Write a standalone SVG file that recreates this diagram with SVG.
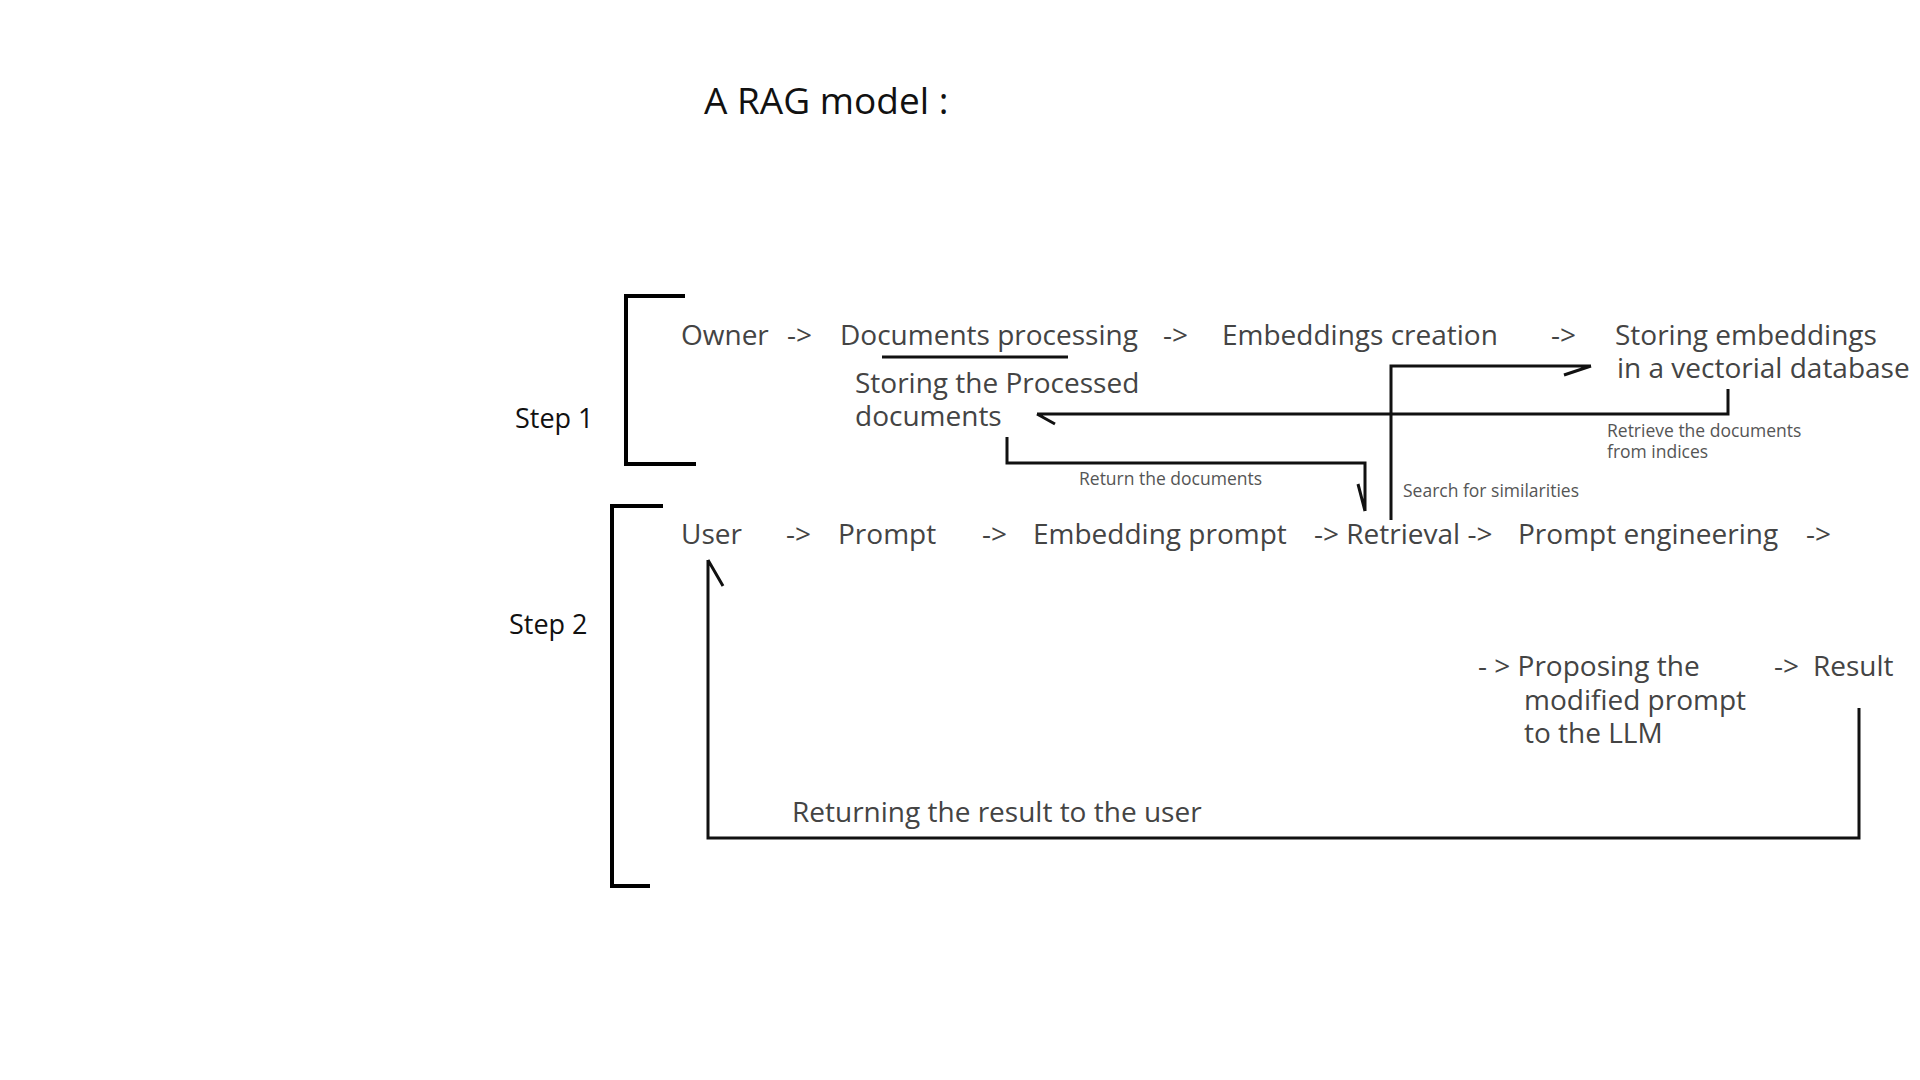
<svg xmlns="http://www.w3.org/2000/svg" width="1920" height="1080" viewBox="0 0 1920 1080">
<style>
.t{font-family:"Open Sans","Noto Sans",sans-serif;font-size:28px;fill:#444}
.s{font-family:"Open Sans","Noto Sans",sans-serif;font-size:17.5px;fill:#555}
.k{font-family:"Open Sans","Noto Sans",sans-serif;fill:#111}
.br{fill:none;stroke:#000;stroke-width:4;stroke-linecap:square}
.ln{fill:none;stroke:#111;stroke-width:3;stroke-linejoin:miter}
</style>
<rect width="1920" height="1080" fill="#fff"/>
<g id="title"><text class="k" x="704" y="114" font-size="37">A RAG model :</text></g>
<g id="step1"><text class="k" x="515" y="428" font-size="27">Step 1</text>
<path class="br" d="M683 296 H626 V464 H694"/></g>
<g id="step2"><text class="k" x="509" y="634" font-size="27">Step 2</text>
<path class="br" d="M661 506 H612 V886 H648"/></g>
<g id="owner"><text class="t" x="681" y="345">Owner</text></g>
<g id="a1"><text class="t" x="787" y="345">-&gt;</text></g>
<g id="docproc"><text class="t" x="840" y="345">Documents processing</text></g>
<g id="a2"><text class="t" x="1163" y="345">-&gt;</text></g>
<g id="embcre"><text class="t" x="1222" y="345">Embeddings creation</text></g>
<g id="a3"><text class="t" x="1551" y="345">-&gt;</text></g>
<g id="storemb"><text class="t" x="1615" y="345">Storing embeddings</text><text class="t" x="1617" y="378">in a vectorial database</text></g>
<g id="storedocs"><text class="t" x="855" y="393">Storing the Processed</text><text class="t" x="855" y="426">documents</text></g>
<g id="user"><text class="t" x="681" y="544">User</text></g>
<g id="b1"><text class="t" x="786" y="544">-&gt;</text></g>
<g id="prompt"><text class="t" x="838" y="544">Prompt</text></g>
<g id="b2"><text class="t" x="982" y="544">-&gt;</text></g>
<g id="embprompt"><text class="t" x="1033" y="544">Embedding prompt</text></g>
<g id="retrieval"><text class="t" x="1314" y="544">-&gt; Retrieval -&gt;</text></g>
<g id="prompteng"><text class="t" x="1518" y="544">Prompt engineering</text></g>
<g id="b5"><text class="t" x="1806" y="544">-&gt;</text></g>
<g id="proposing"><text class="t" x="1478" y="676">- &gt; Proposing the</text><text class="t" x="1524" y="710">modified prompt</text><text class="t" x="1524" y="743">to the LLM</text></g>
<g id="result"><text class="t" x="1774" y="676">-&gt;</text><text class="t" x="1813" y="676">Result</text></g>
<g id="connectors">
<path class="ln" d="M882 357 H1068"/>
<path class="ln" d="M1728 389 V414 H1037 M1037 414 L1055 424"/>
<text class="s" x="1607" y="437">Retrieve the documents</text>
<text class="s" x="1607" y="458">from indices</text>
<path class="ln" d="M1007 437 V463 H1365 V511 M1365 511 L1358 484"/>
<text class="s" x="1079" y="485">Return the documents</text>
<path class="ln" d="M1391 520 V366 H1591 M1591 366 L1564 375"/>
<text class="s" x="1403" y="497">Search for similarities</text>
<path class="ln" stroke="#000" stroke-width="4.5" d="M1859 708 V838 H708 V560 M708 560 L723 586"/>
<text class="t" x="792" y="822">Returning the result to the user</text>
</g>
</svg>
